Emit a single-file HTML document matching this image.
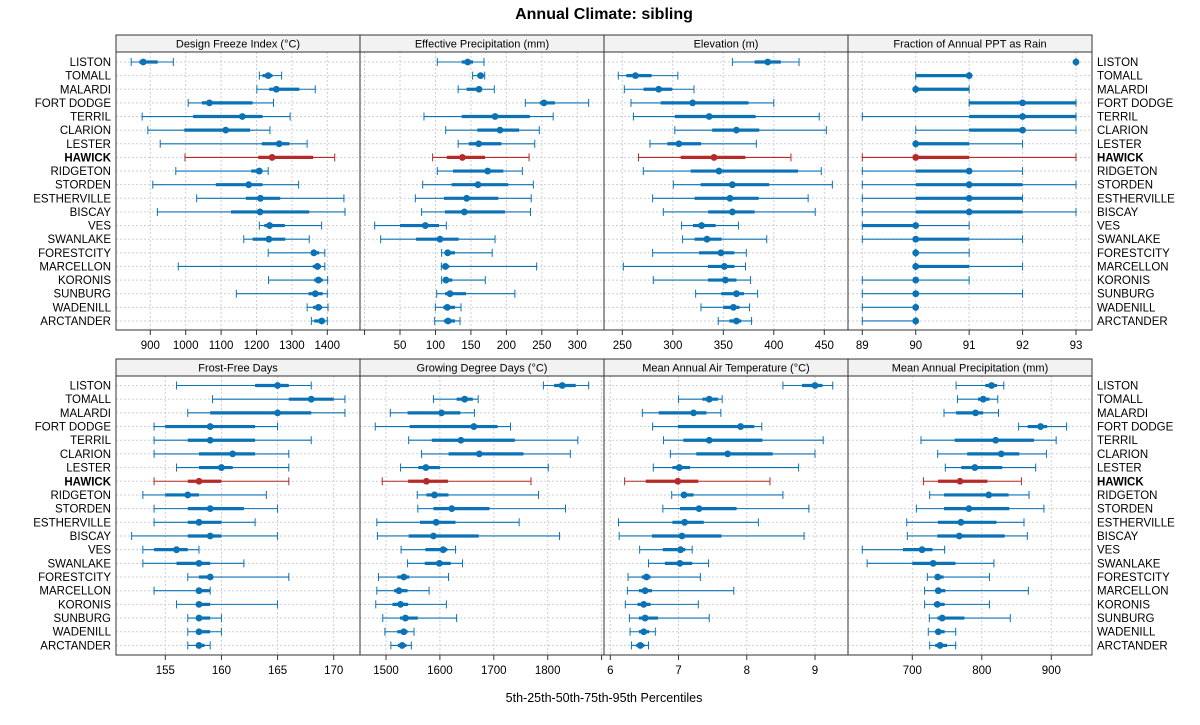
<!DOCTYPE html>
<html><head><meta charset="utf-8"><style>
body{margin:0;background:#fff}
svg{display:block;font-family:"Liberation Sans",Arial,sans-serif}
</style></head><body>
<svg id="chart" width="1200" height="725" viewBox="0 0 1200 725" xmlns="http://www.w3.org/2000/svg">
<text x="604" y="19" text-anchor="middle" font-size="16" font-weight="bold">Annual Climate: sibling</text>
<text x="604" y="702" text-anchor="middle" font-size="12.5">5th-25th-50th-75th-95th Percentiles</text>
</svg>
<script>
const sites = ["LISTON","TOMALL","MALARDI","FORT DODGE","TERRIL","CLARION","LESTER","HAWICK","RIDGETON","STORDEN","ESTHERVILLE","BISCAY","VES","SWANLAKE","FORESTCITY","MARCELLON","KORONIS","SUNBURG","WADENILL","ARCTANDER"];
const highlight = "HAWICK";
const panelTitles = ["Design Freeze Index (°C)","Effective Precipitation (mm)","Elevation (m)","Fraction of Annual PPT as Rain","Frost-Free Days","Growing Degree Days (°C)","Mean Annual Air Temperature (°C)","Mean Annual Precipitation (mm)"];
const freezeIndex = [[846,869,880,921,965],[1208,1217,1233,1245,1271],[1201,1236,1256,1321,1366],[1007,1046,1067,1189,1248],[877,1021,1160,1217,1295],[893,996,1113,1182,1238],[928,1215,1264,1293,1343],[998,1205,1244,1360,1421],[972,1185,1208,1215,1233],[907,1085,1178,1217,1319],[1031,1170,1211,1267,1447],[920,1128,1210,1349,1450],[1208,1222,1237,1280,1384],[1164,1189,1235,1281,1349],[1233,1354,1362,1377,1393],[979,1359,1372,1382,1393],[1234,1363,1375,1387,1401],[1143,1347,1366,1387,1400],[1343,1360,1375,1385,1402],[1355,1363,1384,1394,1400]];
const effPrecip = [[102.6,137,145.4,153,168.4],[152.4,159,163.7,166.5,169.4],[132,144,161.4,163.7,183],[226.7,247,253,268.5,316],[83.8,137,184,233,266],[114.4,159,191,218,246.4],[132,147,161,193,240],[96,116,138,170,232],[102.6,124.7,173.6,195.7,222.5],[82,122.8,160,202.7,238],[71.6,112,144,188.6,235],[80.5,113.4,140.7,198,234],[14.3,50,85.7,105,115.3],[22.7,72.6,106.4,132.7,184],[108.7,113,117.2,127.5,180],[108.3,111,114,119.5,242.7],[108.7,112,114.8,123.8,170.3],[101.7,113.4,120.5,143,212],[99.8,111,116.7,127.5,136],[98.9,112,117.7,127.5,134.6]];
const elevation = [[359,381,394,407,425],[246,254,263,279,305],[252,271,286,299.5,321],[258.6,288,319.6,375,400],[261,302,336,382,445],[302,339,363,385.6,452],[277.4,294.6,306,328,382.7],[266,307.8,340.8,371.8,417],[270.8,317.7,345.7,424,447],[300.5,327.6,359,395.5,458],[280,321.6,356.6,385,434],[290.6,335,359,381,441],[308.7,320,328.5,342.4,365],[309.7,321.6,333.8,348.4,393],[280,326,347.7,361,372.8],[251,334.8,351,361,372],[280.7,334.8,352,363,377],[322.6,348,363,370.5,384],[327.9,350,360,366,376],[345,356,363,367.8,378]];
const fracRain = [[93,93,93,93,93],[90,90,91,91,91],[90,90,90,91,91],[91,91,92,93,93],[89,91,92,93,93],[90,91,92,92,93],[90,90,90,91,92],[89,90,90,91,93],[89,90,91,91,92],[89,90,91,92,93],[89,90,91,92,92],[89,90,91,92,93],[89,89,90,90,91],[89,90,90,91,92],[90,90,90,90,91],[90,90,90,91,92],[89,90,90,90,91],[89,90,90,90,92],[89,90,90,90,90],[89,90,90,90,90]];
const frostFree = [[156,163,165,166,168],[159.2,166,168,170,171],[157,159,165,168,171],[154,155,159,163,165],[154,157,159,163,168],[154,158,161,163,166],[156,158,160,161,166],[154,157,158,160,166],[153,155,157,158,164],[154,157,159,162,165],[154,157,158,160,163],[152,157,159,160,165],[153,154,156,157,158],[153,156,158,159,162],[157,158,159,159,166],[154,158,158,159,159],[156,158,158,159,165],[157,158,158,159,160],[157,158,158,159,160],[157,158,158,158.5,159]];
const gdd = [[1792,1812,1827,1852,1876],[1588,1631,1646,1661,1671],[1508,1540,1603,1638,1664],[1480,1544,1663,1707,1731],[1542,1585,1639,1739,1856],[1566,1616,1673,1755,1842],[1527,1560,1574,1600,1801],[1493,1541,1575,1615,1769],[1558,1575,1590,1616,1783],[1559,1588,1622,1692,1833],[1483,1563,1593,1629,1747],[1484,1542,1588,1672,1822],[1528,1573,1606,1614,1629],[1540,1572,1599,1620,1642],[1486,1521,1533,1543,1616],[1483,1515,1524,1540,1580],[1481,1512,1527,1541,1612],[1494,1526,1536,1559,1631],[1498,1521,1533,1540,1552],[1509,1522,1530,1538,1547]];
const maat = [[8.53,8.81,9.0,9.11,9.26],[7.0,7.35,7.45,7.58,7.64],[6.47,6.71,7.22,7.41,7.62],[6.62,6.99,7.91,8.11,8.22],[6.78,7.07,7.45,8.23,9.12],[6.88,7.26,7.72,8.38,9.0],[6.63,6.91,7.01,7.17,8.76],[6.21,6.52,6.99,7.29,8.34],[6.90,7.04,7.08,7.22,8.53],[6.77,7.02,7.30,7.85,8.91],[6.12,6.91,7.09,7.37,8.17],[6.13,6.61,7.05,7.63,8.84],[6.43,6.77,7.03,7.10,7.20],[6.56,6.80,7.02,7.20,7.44],[6.26,6.46,6.53,6.59,7.32],[6.25,6.42,6.51,6.61,7.81],[6.22,6.40,6.49,6.59,7.29],[6.28,6.42,6.51,6.70,7.45],[6.29,6.42,6.49,6.57,6.66],[6.31,6.38,6.44,6.50,6.56]];
const map = [[763,805,814,822,831.6],[765,794.5,802,811,823],[745.6,763,791,802,824],[853,866,884.6,894,922],[712.5,761,820,875,907],[736.5,779,828,854,893],[747.5,770.5,790,829.5,877.5],[716,737,768.6,808,857],[725,745.6,810,838.6,868],[705.8,745.6,781.5,839.6,889.4],[692,737,770,821,860.7],[692.8,736,767.6,833,865.5],[628,686.6,714,729,746.5],[635,700,730,762,817.5],[721.6,733,736.5,745,811],[717.7,733,737.4,747.5,867],[717.7,731,736,746.5,811],[724.5,736,743,775,841],[723,733,737.4,746.5,762.4],[725,733,740,750,762.4]];
const ticks1 = [900,1000,1100,1200,1300,1400];
const ticks2 = [0,50,100,150,200,250,300];
const ticks3 = [250,300,350,400,450];
const ticks4 = [89,90,91,92,93];
const ticks5 = [155,160,165,170];
const ticks6 = [1500,1600,1700,1800,1900];
const ticks7 = [6,7,8,9];
const ticks8 = [700,800,900];

const NS="http://www.w3.org/2000/svg";
const svg=document.getElementById('chart');
function mk(tag,attrs,parent){const e=document.createElementNS(NS,tag);for(const k in attrs)e.setAttribute(k,attrs[k]);(parent||svg).appendChild(e);return e;}
const panels=[
 {data:freezeIndex,ticks:ticks1,sc:[900,150.3,1400,327.3],col:0,row:0,hide:[]},
 {data:effPrecip,ticks:ticks2,sc:[50,400,300,577.3],col:1,row:0,hide:[0]},
 {data:elevation,ticks:ticks3,sc:[250,622.3,450,824.3],col:2,row:0,hide:[]},
 {data:fracRain,ticks:ticks4,sc:[89,862.3,93,1076],col:3,row:0,hide:[]},
 {data:frostFree,ticks:ticks5,sc:[155,165.3,170,333.7],col:0,row:1,hide:[]},
 {data:gdd,ticks:ticks6,sc:[1500,386,1800,547.7],col:1,row:1,hide:[1900]},
 {data:maat,ticks:ticks7,sc:[6,610.3,9,815],col:2,row:1,hide:[]},
 {data:map,ticks:ticks8,sc:[700,912.3,900,1051.3],col:3,row:1,hide:[]}
];
const colX=[116,360,604,848,1092];
const rowGeom=[{strip:35,top:52,bot:330,y0:62,step:13.63},{strip:359,top:376,bot:655,y0:385.5,step:13.68}];
const BLUE="#0b72b5", RED="#b62a2a";
panels.forEach((p,pi)=>{
  const g=mk('g',{});
  
  
  const x0=colX[p.col], x1=colX[p.col+1], R=rowGeom[p.row];
  const sx=v=>p.sc[1]+(v-p.sc[0])*(p.sc[3]-p.sc[1])/(p.sc[2]-p.sc[0]);
  const sy=i=>R.y0+i*R.step;
  const st=mk('rect',{x:x0,y:R.strip,width:x1-x0,height:R.top-R.strip,fill:'#f2f2f2',stroke:'#333','stroke-width':1},g);
  
  
  const stt=mk('text',{x:(x0+x1)/2,y:R.strip+12.5,'text-anchor':'middle','font-size':11},g);
  stt.textContent=panelTitles[pi];
  
  
  p.ticks.forEach(t=>{const x=sx(t); if(x>x0&&x<x1){mk('line',{x1:x,x2:x,y1:R.top,y2:R.bot,stroke:'#cfcfcf','stroke-dasharray':'2,2'},g);}});
  sites.forEach((s,i)=>{mk('line',{x1:x0,x2:x1,y1:sy(i),y2:sy(i),stroke:'#cfcfcf','stroke-dasharray':'2,2'},g);});
  p.ticks.forEach(t=>{const x=sx(t);
    const tl=mk('line',{x1:x,x2:x,y1:R.bot,y2:R.bot+5,stroke:'#333'},g);
    
    
    if(p.hide.indexOf(t)<0){const tx=mk('text',{x:x,y:R.bot+19,'text-anchor':'middle','font-size':11.5},g);tx.textContent=String(t);
      
      }
  });
  p.data.forEach((d,i)=>{
    const c=sites[i]===highlight?RED:BLUE, y=sy(i);
    const m=mk('g',{},g);
    
    
    mk('line',{x1:sx(d[0]),x2:sx(d[4]),y1:y,y2:y,stroke:c,'stroke-width':1.1},m);
    mk('line',{x1:sx(d[0]),x2:sx(d[0]),y1:y-4,y2:y+4,stroke:c,'stroke-width':1},m);
    mk('line',{x1:sx(d[4]),x2:sx(d[4]),y1:y-4,y2:y+4,stroke:c,'stroke-width':1},m);
    mk('line',{x1:sx(d[1]),x2:sx(d[3]),y1:y,y2:y,stroke:c,'stroke-width':3.2},m);
    mk('circle',{cx:sx(d[2]),cy:y,r:3.4,fill:c},m);
  });
  const fr=mk('rect',{x:x0,y:R.top,width:x1-x0,height:R.bot-R.top,fill:'none',stroke:'#333','stroke-width':1},g);
  
  
});
rowGeom.forEach(R=>{
  sites.forEach((s,i)=>{
    const y=R.y0+i*R.step+4;
    const b=s===highlight?'bold':'normal';
    const l=mk('text',{x:111,y:y,'text-anchor':'end','font-size':11.5,'font-weight':b});
    l.textContent=s;
    
    
    const r=mk('text',{x:1097,y:y,'text-anchor':'start','font-size':11.5,'font-weight':b});
    r.textContent=s;
    
    
  });
});
</script>
</body></html>
